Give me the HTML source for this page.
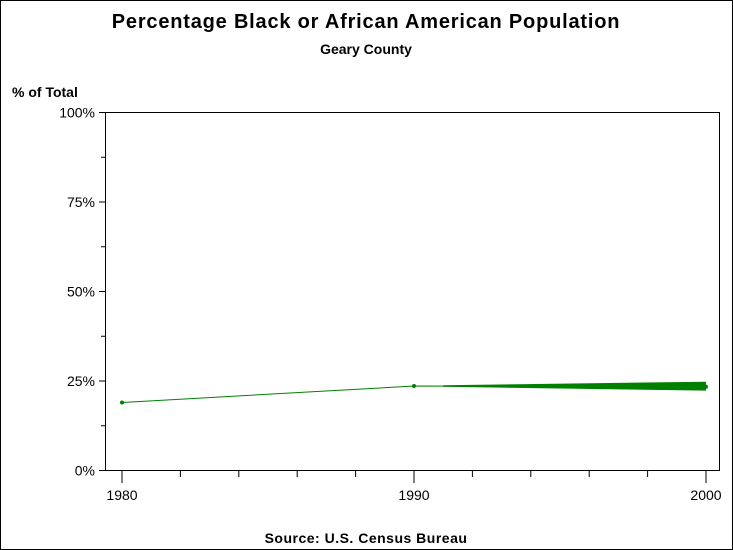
<!DOCTYPE html>
<html><head><meta charset="utf-8"><style>
body{margin:0;background:#fff}
svg{display:block;font-family:"Liberation Sans",Arial,sans-serif}
</style></head><body>
<svg id="c" width="733" height="550">
<rect x="0.5" y="0.5" width="732" height="549" fill="#fff" stroke="#000"/>
<text x="366" y="28" text-anchor="middle" font-size="20" font-weight="bold" letter-spacing="0.8">Percentage Black or African American Population</text>
<text x="366" y="54" text-anchor="middle" font-size="14" font-weight="bold">Geary County</text>
<text x="12" y="97" font-size="14" font-weight="bold">% of Total</text>
<text x="366" y="543" text-anchor="middle" font-size="14" font-weight="bold" letter-spacing="0.5">Source: U.S. Census Bureau</text>
<rect x="105.5" y="112.5" width="614" height="358" fill="none" stroke="#000"/>
<g id="g"></g>
</svg>
<script>
const years=[1980,1990,2000];
const values=[19.0,23.6,23.4];
const bandStart=1991;
const bandUpper=[23.8,24.8];
const bandLower=[23.4,22.3];
const yTicks=[0,25,50,75,100];
const yTickLabels=["0%","25%","50%","75%","100%"];
const xTicks=[1980,1990,2000];
const NS="http://www.w3.org/2000/svg";
const g=document.getElementById('g');
const X=v=>122+(v-1980)*(706-122)/20;
const Y=v=>470.5-v*(358/100);
function mk(t,a){const e=document.createElementNS(NS,t);for(const k in a)e.setAttribute(k,a[k]);g.appendChild(e);return e;}
yTicks.forEach((t,i)=>{
 const l=mk('line',{x1:99,x2:105,y1:Y(t),y2:Y(t),stroke:'#000'});
 
 
 const tx=mk('text',{x:95,y:Y(t)+5,'text-anchor':'end','font-size':14});
 tx.textContent=yTickLabels[i];
 
 
 if(i<yTicks.length-1){const m=mk('line',{x1:101,x2:105,y1:Y(t+12.5),y2:Y(t+12.5),stroke:'#000'});
 
 }
});
for(let yr=1980;yr<=2000;yr+=2){
 const major=xTicks.includes(yr);
 const l=mk('line',{x1:X(yr),x2:X(yr),y1:471,y2:major?483:477,stroke:'#000'});
 
 
}
xTicks.forEach(t=>{
 const tx=mk('text',{x:X(t),y:500,'text-anchor':'middle','font-size':14});
 tx.textContent=t;
 
 
});
const band=mk('polygon',{points:`${X(bandStart)},${Y(bandUpper[0])} ${X(years[2])},${Y(bandUpper[1])} ${X(years[2])},${Y(bandLower[1])} ${X(bandStart)},${Y(bandLower[0])}`,fill:'#008000'});


const line=mk('polyline',{points:years.map((y,i)=>X(y)+','+Y(values[i])).join(' '),fill:'none',stroke:'#008000','stroke-width':1});


years.forEach((y,i)=>{
 const p=mk('circle',{cx:X(y),cy:Y(values[i]),r:2,fill:'#008000'});
 
 
});
</script>
</body></html>
